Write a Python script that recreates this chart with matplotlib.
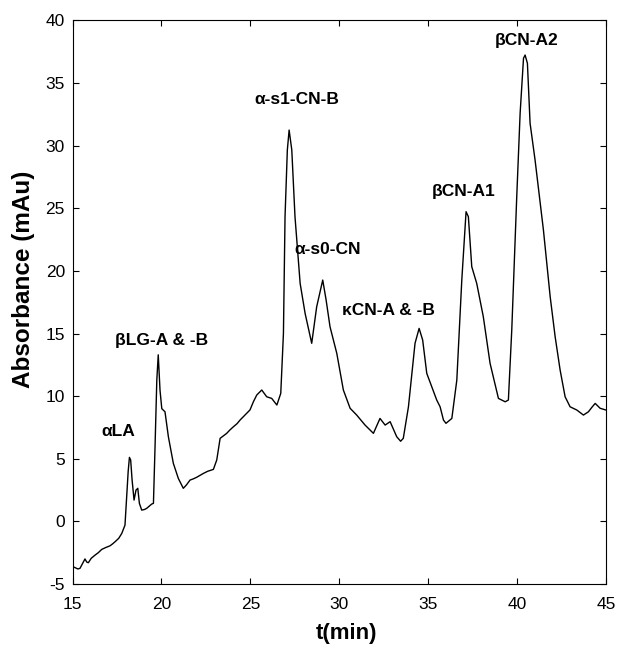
import numpy as np
import matplotlib
matplotlib.use("Agg")
import matplotlib.pyplot as plt

plt.rcParams['font.family'] = ['Liberation Sans', 'DejaVu Sans']
plt.rcParams['axes.unicode_minus'] = False

# chromatogram trace (t in min, absorbance in mAu)
t_min = [15.0, 15.15, 15.3, 15.42, 15.55, 15.7, 15.8, 15.89, 16.05, 16.27, 16.45,
         16.64, 16.85, 17.11, 17.25, 17.39, 17.6, 17.77, 17.95, 18.05, 18.13,
         18.2, 18.27, 18.35, 18.46, 18.57, 18.67, 18.76, 18.89, 19.05, 19.17,
         19.3, 19.45, 19.55, 19.64, 19.74, 19.82, 19.92, 20.02, 20.2, 20.39,
         20.67, 20.95, 21.23, 21.4, 21.61, 21.8, 21.98, 22.2, 22.36, 22.6,
         22.92, 23.11, 23.3, 23.5, 23.67, 23.85, 24.05, 24.25, 24.42, 24.6,
         24.8, 24.98, 25.17, 25.36, 25.64, 25.92, 26.2, 26.49, 26.71, 26.86,
         26.95, 27.08, 27.18, 27.33, 27.51, 27.8, 28.08, 28.45, 28.73, 29.07,
         29.26, 29.48, 29.86, 30.23, 30.61, 30.98, 31.45, 31.92, 32.1, 32.29,
         32.58, 32.86, 33.23, 33.45, 33.6, 33.89, 34.26, 34.49, 34.69, 34.92,
         35.2, 35.48, 35.67, 35.86, 36.0, 36.33, 36.61, 36.89, 37.13, 37.26,
         37.45, 37.73, 38.1, 38.48, 38.95, 39.33, 39.51, 39.7, 39.98, 40.17,
         40.36, 40.45, 40.58, 40.73, 41.01, 41.48, 41.86, 42.14, 42.42, 42.7,
         42.98, 43.36, 43.73, 44.01, 44.2, 44.39, 44.67, 45.0]
absorbance = [-3.6, -3.7, -3.8, -3.75, -3.4, -3.0, -3.25, -3.3, -2.95, -2.69, -2.5,
              -2.24, -2.1, -1.95, -1.8, -1.63, -1.35, -0.96, -0.3, 2.1, 4.0,
              5.11, 4.9, 3.3, 1.7, 2.5, 2.64, 1.44, 0.9, 0.95, 1.04,
              1.2, 1.38, 1.44, 5.96, 11.3, 13.3, 10.47, 9.0, 8.75, 6.76,
              4.63, 3.43, 2.64, 2.9, 3.3, 3.4, 3.52, 3.7, 3.83, 4.0,
              4.15, 4.9, 6.63, 6.85, 7.03, 7.3, 7.56, 7.8, 8.09, 8.35,
              8.63, 8.9, 9.55, 10.09, 10.49, 9.95, 9.82, 9.29, 10.22, 15.0,
              24.33, 29.66, 31.25, 29.66, 24.33, 19.0, 16.6, 14.22, 17.14, 19.27,
              17.68, 15.54, 13.42, 10.49, 9.03, 8.49, 7.69, 7.03, 7.6, 8.22,
              7.69, 7.96, 6.76, 6.4, 6.63, 9.15, 14.22, 15.41, 14.48, 11.82,
              10.75, 9.69, 9.15, 8.09, 7.83, 8.22, 11.28, 19.27, 24.73, 24.33,
              20.34, 19.0, 16.34, 12.62, 9.82, 9.55, 9.69, 15.28, 25.93, 32.59,
              36.98, 37.24, 36.58, 31.79, 28.86, 23.27, 17.94, 14.74, 12.08, 9.95,
              9.15, 8.89, 8.49, 8.75, 9.1, 9.42, 9.03, 8.89]

# peak labels
peak_names = ['\u03b1LA', '\u03b2LG-A & -B', '\u03b1-s1-CN-B', '\u03b1-s0-CN',
              '\u03baCN-A & -B', '\u03b2CN-A1', '\u03b2CN-A2']
label_t = [17.58, 20.02, 27.63, 29.37, 32.74, 37.02, 40.55]
label_y = [7.16, 14.48, 33.65, 21.75, 16.8, 26.38, 38.44]

fig = plt.figure(figsize=(6.22, 6.46), dpi=100)
ax = fig.add_axes([0.1166, 0.096, 0.8577, 0.8723])

ax.plot(t_min, absorbance, color='black', linewidth=1.0)

for name, tx, ty in zip(peak_names, label_t, label_y):
    ax.text(tx, ty, name, ha='center', va='center', fontsize=12.5, fontweight='bold')

ax.set_xlim(15, 45)
ax.set_ylim(-5, 40)
ax.set_xticks(np.arange(15, 46, 5))
ax.set_yticks(np.arange(-5, 41, 5))
ax.tick_params(direction='in', top=True, right=True, length=4, width=0.8,
               labelsize=12.5)
ax.tick_params(axis='x', pad=9.5)
ax.tick_params(axis='y', pad=5.5)
for s in ax.spines.values():
    s.set_linewidth(0.8)

ax.set_xlabel('t(min)', fontsize=16, fontweight='bold')
ax.set_ylabel('Absorbance (mAu)', fontsize=17.5, fontweight='bold')
ax.xaxis.set_label_coords(0.513, -0.087)
ax.xaxis.label.set_va('center')
ax.yaxis.set_label_coords(-0.091, 0.541)
ax.yaxis.label.set_va('center')

fig.savefig('out.png', dpi=100)
